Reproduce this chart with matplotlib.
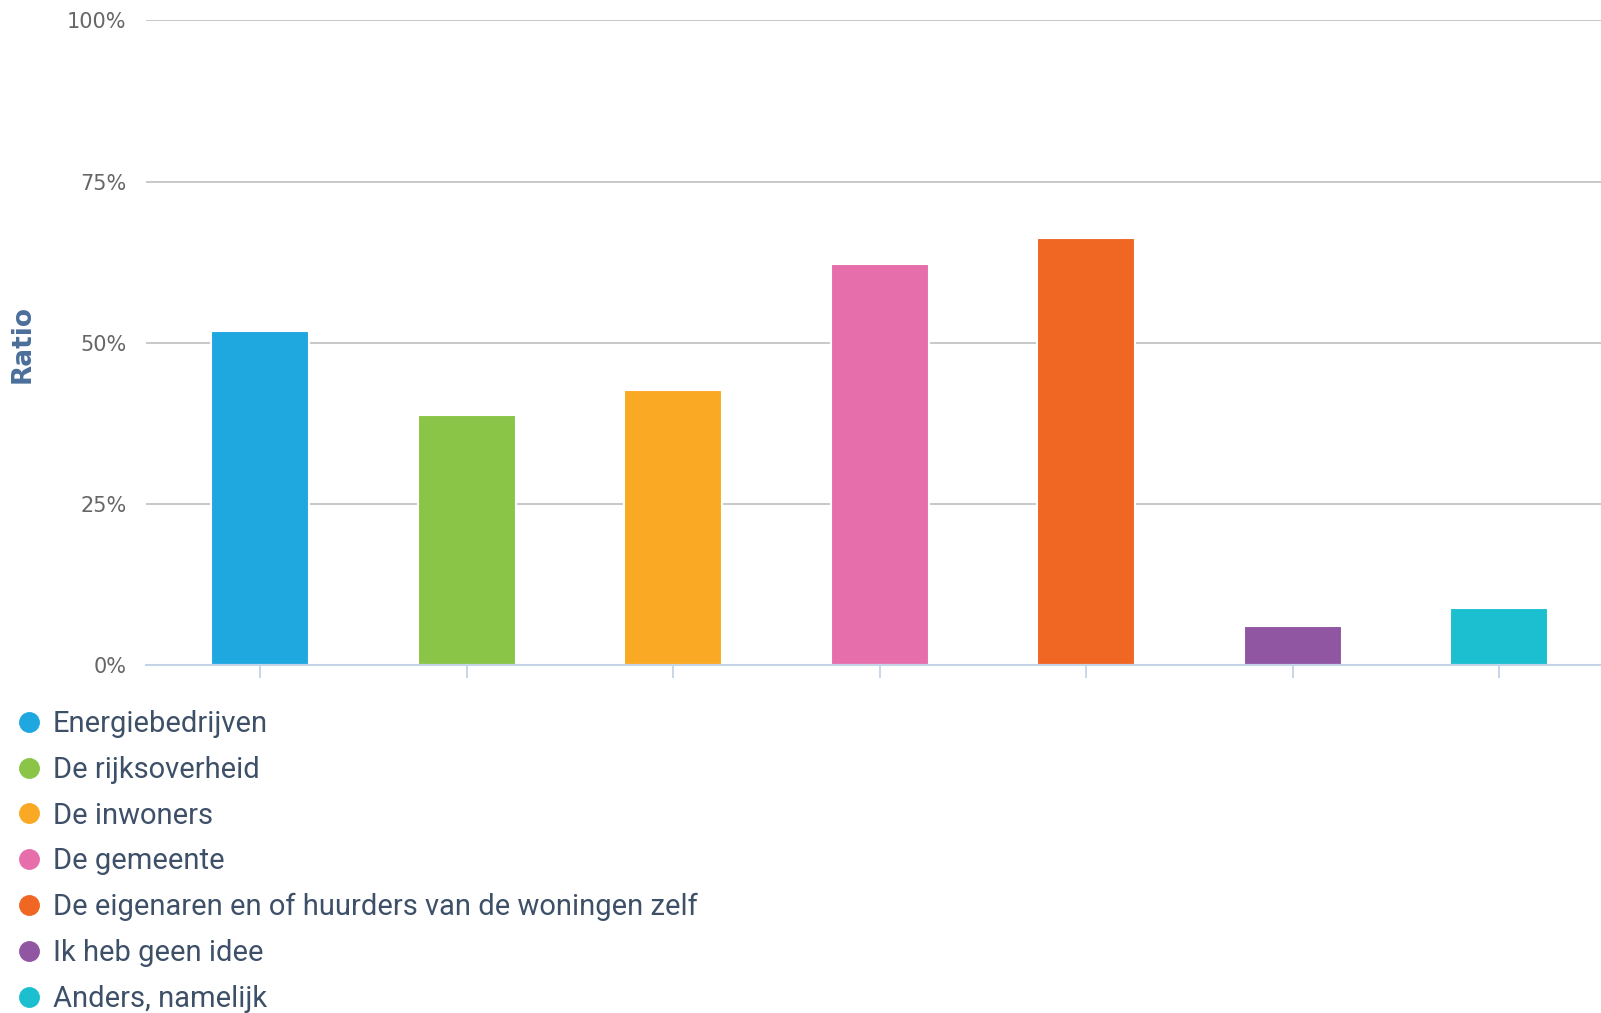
import matplotlib.pyplot as plt
from matplotlib.lines import Line2D
from matplotlib.ticker import FuncFormatter

# Antwoorden en aandeel respondenten (in %)
categories = [
    "Energiebedrijven",
    "De rijksoverheid",
    "De inwoners",
    "De gemeente",
    "De eigenaren en of huurders van de woningen zelf",
    "Ik heb geen idee",
    "Anders, namelijk",
]
values = [51.8, 38.8, 42.6, 62.2, 66.3, 6.1, 8.8]
colors = ["#1fa8e0", "#8ac548", "#faa924", "#e66fab", "#f06724", "#9056a2", "#1bbfcf"]
yticks = [0, 25, 50, 75, 100]

fig = plt.figure(figsize=(16.01, 10.13), dpi=100)
ax = fig.add_axes([0.0912, 0.3435, 0.9088, 0.6363])

x = list(range(len(categories)))
ax.bar(x, values, width=0.475, color=colors, edgecolor="white", linewidth=1.5, zorder=3)

ax.set_xlim(-0.554, 6.494)
ax.set_ylim(0, 100)
ax.set_yticks(yticks)
ax.yaxis.set_major_formatter(FuncFormatter(lambda v, _: f"{v:.0f}%"))
ax.set_xticks(x)
ax.set_xticklabels([])

ax.grid(axis="y", color="#c8c8c8", linewidth=1.4, zorder=0)
ax.set_axisbelow(True)
for side in ["top", "right", "left"]:
    ax.spines[side].set_visible(False)
ax.spines["bottom"].set_color("#c5d3e6")
ax.spines["bottom"].set_linewidth(1.5)
ax.spines["bottom"].set_zorder(4)

ax.tick_params(axis="y", length=0, pad=14, labelsize=15, labelcolor="#666666")
ax.tick_params(axis="x", length=9, width=1.3, color="#c5d3e6", direction="out")

fig.text(0.0142, 0.6605, "Ratio", rotation=90, ha="center", va="center",
         fontsize=19, fontweight="bold", color="#4a6f9a")

handles = [Line2D([], [], linestyle="none", marker="o", markersize=14,
                  markerfacecolor=c, markeredgecolor=c) for c in colors]
fig.legend(handles, categories, loc="upper left", bbox_to_anchor=(0.009, 0.299),
           frameon=False, handletextpad=0.32, handlelength=1.0, labelspacing=0.61,
           borderaxespad=0, borderpad=0,
           prop={"family": ["Roboto", "DejaVu Sans"], "size": 21},
           labelcolor="#3d5068")

fig.savefig("out.png", dpi=100, facecolor="white")
